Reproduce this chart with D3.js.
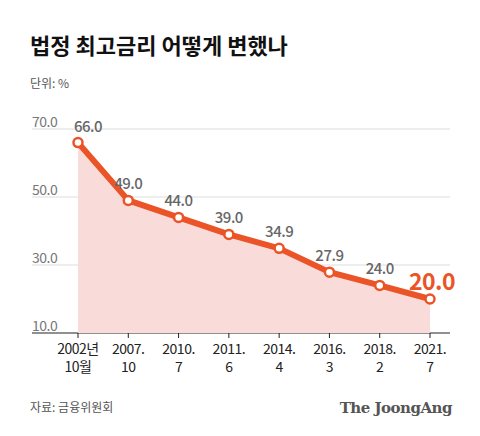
<!DOCTYPE html><html><head><meta charset="utf-8"><script src="https://cdn.jsdelivr.net/npm/d3@7"></script>
<style>body{margin:0;background:#fff}</style></head><body><svg id="c" width="480" height="436"></svg><script>
const categories=[["2002년","10월"],["2007.","10"],["2010.","7"],["2011.","6"],["2014.","4"],["2016.","3"],["2018.","2"],["2021.","7"]];
const values=[66.0,49.0,44.0,39.0,34.9,27.9,24.0,20.0];
const yTicks=[10,30,50,70];
const svg=d3.select("#c"),F="'Noto Sans CJK KR','Noto Sans',sans-serif";
const x=d3.scalePoint().domain(d3.range(values.length)).range([78,430]);
const y=d3.scaleLinear().domain([10,70]).range([333,129]);
svg.append("text").attr("x",30).attr("y",54).attr("font-family",F).attr("font-weight",700).attr("font-size",22).attr("fill","#111").text("법정 최고금리 어떻게 변했나");
svg.append("text").attr("x",30).attr("y",88).attr("font-family",F).attr("font-size",12).attr("fill","#555").text("단위: %");
yTicks.forEach(t=>{
 svg.append("line").attr("x1",32).attr("x2",450).attr("y1",y(t)).attr("y2",y(t)).attr("stroke",t==10?"#222":"#ddd").attr("stroke-width",t==10?1.2:1);
 svg.append("text").attr("x",32).attr("y",y(t)-2).attr("font-family",F).attr("font-size",14).attr("fill","#777").attr("letter-spacing",-0.5).text(t.toFixed(1));
});
svg.append("path").datum(values).attr("fill","#f9dcd9").attr("d",d3.area().x((d,i)=>x(i)).y0(y(10)).y1(d=>y(d)));
svg.append("path").datum(values).attr("fill","none").attr("stroke","#ea5426").attr("stroke-width",6).attr("stroke-linejoin","round").attr("d",d3.line().x((d,i)=>x(i)).y(d=>y(d)));
values.forEach((v,i)=>{
 svg.append("circle").attr("cx",x(i)).attr("cy",y(v)).attr("r",4.5).attr("fill","#fff").attr("stroke","#ea5426").attr("stroke-width",2.5);
 const last=i==values.length-1;
 svg.append("text").attr("x",last?x(i)+2:x(i)+(i==0?10:0)).attr("y",y(v)-(last?9:11)).attr("text-anchor","middle").attr("font-family",F)
  .attr("font-size",last?23:15).attr("font-weight",last?600:500).attr("fill",last?"#ea5426":"#666").attr("letter-spacing",-0.5).text(v.toFixed(1));
 svg.append("line").attr("x1",x(i)).attr("x2",x(i)).attr("y1",y(10)).attr("y2",y(10)+5).attr("stroke","#222");
 categories[i].forEach((s,j)=>svg.append("text").attr("x",x(i)).attr("y",354+j*18).attr("text-anchor","middle").attr("font-family",F).attr("font-size",14).attr("fill","#222").attr("letter-spacing",-0.5).text(s));
});
svg.append("text").attr("x",30).attr("y",412).attr("font-family",F).attr("font-size",12).attr("fill","#555").text("자료: 금융위원회");
svg.append("text").attr("x",452).attr("y",413).attr("text-anchor","end").attr("font-family","'DejaVu Serif','Liberation Serif',serif").attr("font-weight",700).attr("font-size",15).attr("fill","#555").attr("letter-spacing",-0.5).text("The JoongAng");
</script></body></html>
